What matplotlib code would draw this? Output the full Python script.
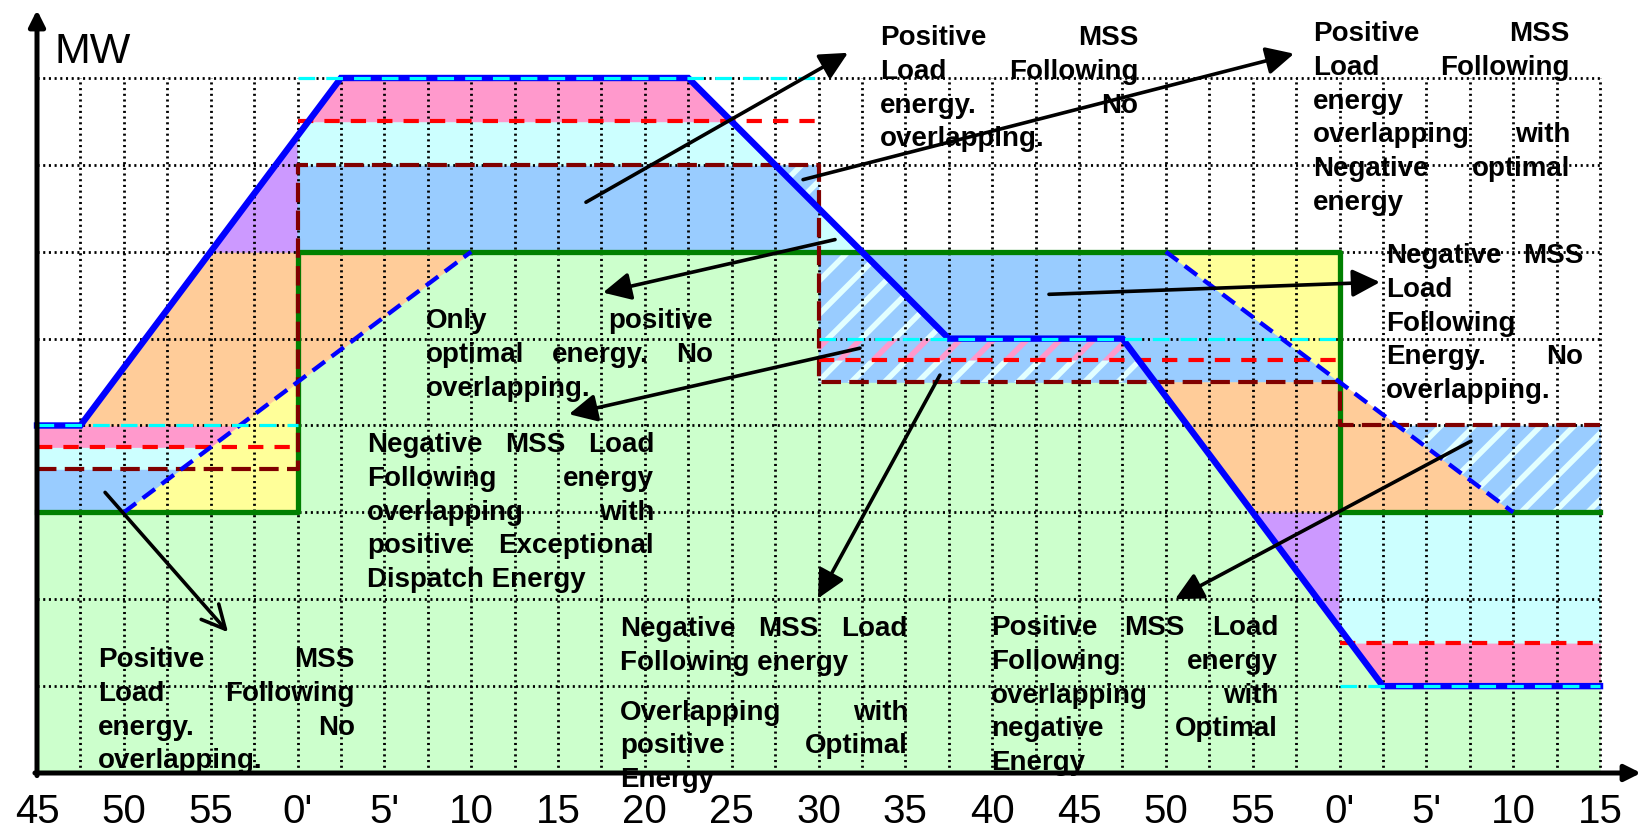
import numpy as np
import matplotlib
matplotlib.use("Agg")
import matplotlib.pyplot as plt

plt.rcParams["lines.scale_dashes"] = False
plt.rcParams["hatch.linewidth"] = 4.0
plt.rcParams["font.family"] = ["Liberation Sans", "DejaVu Sans"]

# ---------------- data (minutes from :45, MW levels) ----------------
tick_minutes = list(range(0, 91, 5))
tick_labels = ["45", "50", "55", "0'", "5'", "10", "15", "20", "25", "30",
               "35", "40", "45", "50", "55", "0'", "5'", "10", "15"]

# hourly schedule (green)
sched_edges = [0, 15, 75, 90]
sched_mw = [3, 6, 3]

# 30-minute interval levels
interval_edges = [0, 15, 45, 75, 90]
ed_mw = [3.5, 7, 4.5, 4]          # exceptional dispatch (dark red dashed)
optimal_mw = [3.75, 7.5, 4.75, 1.5]  # optimal energy (red dashed)
mss_mw = [4, 8, 5, 1]              # MSS load following target (cyan dashed)

# dispatch instruction (solid blue)
dispatch_t = [0, 2.5, 17.5, 37.5, 52.5, 62.5, 77.5, 90]
dispatch_mw = [4, 4, 8, 8, 5, 5, 1, 1]

# hourly schedule ramps (blue dashed)
ramp_up_t = [5, 25]
ramp_up_mw = [3, 6]
ramp_down_t = [65, 85]
ramp_down_mw = [6, 3]

# ---------------- colours ----------------
GREEN_FILL = "#CCFFCC"
BLUE_FILL = "#99CCFF"
CYAN_FILL = "#CCFFFF"
PINK_FILL = "#FF99CC"
YELLOW_FILL = "#FFFF99"
ORANGE_FILL = "#FFCC99"
PURPLE_FILL = "#CC99FF"
STRIPE = "#E2FFFF"

# ---------------- canvas ----------------
W, H = 1642, 830
X0_PX, Y0_PX = 37, 773          # origin position in pixels (from top-left)
PX_PER_MIN, PX_PER_MW = 17.367, 86.875

fig = plt.figure(figsize=(W / 100, H / 100), dpi=100)
ax = fig.add_axes([0, 0, 1, 1])
ax.set_xlim(-X0_PX / PX_PER_MIN, (W - X0_PX) / PX_PER_MIN)
ax.set_ylim(-(H - Y0_PX) / PX_PER_MW, Y0_PX / PX_PER_MW)
ax.axis("off")

tt = np.linspace(0, 90, 18001)
disp = np.interp(tt, dispatch_t, dispatch_mw)
up = np.interp(tt, ramp_up_t, ramp_up_mw)
dn = np.interp(tt, ramp_down_t, ramp_down_mw)


def band(t0, t1, lo, hi, color):
    lo = np.broadcast_to(np.asarray(lo, float), tt.shape)
    hi = np.broadcast_to(np.asarray(hi, float), tt.shape)
    m = (tt >= t0) & (tt <= t1) & (hi > lo)
    ax.fill_between(tt, lo, hi, where=m, facecolor=color, edgecolor=color,
                    lw=0.4, zorder=1)


def stripes(t0, t1, lo, hi, color):
    lo = np.broadcast_to(np.asarray(lo, float), tt.shape)
    hi = np.broadcast_to(np.asarray(hi, float), tt.shape)
    m = (tt >= t0) & (tt <= t1) & (hi > lo)
    ax.fill_between(tt, lo, hi, where=m, facecolor="none", edgecolor=color,
                    lw=0, hatch="/", zorder=1.2)


# base: energy under the hourly schedule
for a, b, s in zip(sched_edges[:-1], sched_edges[1:], sched_mw):
    band(a, b, 0, s, GREEN_FILL)

# interval 0 (:45 - :00)
a, b = interval_edges[0], interval_edges[1]
s, e, o, m = sched_mw[0], ed_mw[0], optimal_mw[0], mss_mw[0]
band(a, b, s, e, BLUE_FILL)
band(a, b, e, o, CYAN_FILL)
band(a, b, o, m, PINK_FILL)
band(a, b, s, up, YELLOW_FILL)
band(a, b, np.maximum(m, up), np.minimum(disp, sched_mw[1]), ORANGE_FILL)
band(a, b, sched_mw[1], disp, PURPLE_FILL)

# interval 1 (:00 - :30)
a, b = interval_edges[1], interval_edges[2]
s, e, o, m = sched_mw[1], ed_mw[1], optimal_mw[1], mss_mw[1]
band(a, b, up, s, ORANGE_FILL)
band(a, b, s, e, BLUE_FILL)
band(a, b, e, np.minimum(o, disp), CYAN_FILL)
band(a, b, o, np.minimum(m, disp), PINK_FILL)
stripes(a, b, np.maximum(disp, s), e, STRIPE)

# interval 2 (:30 - :00)
a, b = interval_edges[2], interval_edges[3]
s, e, o, m = sched_mw[1], ed_mw[2], optimal_mw[2], mss_mw[2]
band(a, b, s, disp, CYAN_FILL)
band(a, b, e, np.minimum(s, dn), BLUE_FILL)
stripes(a, b, e, np.minimum(o, disp), STRIPE)
stripes(a, b, o, np.minimum(m, disp), PINK_FILL)
stripes(a, b, m, np.minimum(s, disp), STRIPE)
band(a, b, dn, s, YELLOW_FILL)
band(a, b, np.maximum(disp, sched_mw[2]), e, ORANGE_FILL)
band(a, b, disp, sched_mw[2], PURPLE_FILL)

# interval 3 (:00 - :15)
a, b = interval_edges[3], interval_edges[4]
s, e, o, m = sched_mw[2], ed_mw[3], optimal_mw[3], mss_mw[3]
band(a, b, np.maximum(disp, m), o, PINK_FILL)
band(a, b, np.maximum(disp, o), s, CYAN_FILL)
band(a, b, s, dn, ORANGE_FILL)
band(a, b, np.maximum(dn, s), e, BLUE_FILL)
stripes(a, b, np.maximum(dn, s), e, STRIPE)

# ---------------- dotted grid ----------------
GRID = dict(color="black", lw=2.0, dashes=(1.5, 2.6), dash_capstyle="butt",
            zorder=3)
for t in np.arange(2.5, 90.01, 2.5):
    ax.plot([t, t], [0, 8], **GRID)
for lv in range(1, 9):
    ax.plot([0, 90], [lv, lv], **GRID)

# ---------------- level lines ----------------
def step_xy(edges, levels):
    return np.repeat(edges, 2)[1:-1], np.repeat(levels, 2)


gx, gy = step_xy(sched_edges, sched_mw)
ax.plot(gx, gy, color="#008000", lw=3.8, zorder=4)
ex, ey = step_xy(interval_edges, ed_mw)
ax.plot(ex, ey, color="#800000", lw=3.0, dashes=(14, 6), zorder=4.1)
for a, b, lv in zip(interval_edges[:-1], interval_edges[1:], optimal_mw):
    ax.plot([a, b], [lv, lv], color="#FF0000", lw=3.0, dashes=(11, 8),
            zorder=4.2)
ax.plot(ramp_up_t, ramp_up_mw, color="#0000FF", lw=3.1, dashes=(11, 6),
        zorder=4.3)
ax.plot(ramp_down_t, ramp_down_mw, color="#0000FF", lw=3.1, dashes=(11, 6),
        zorder=4.3)
ax.plot(dispatch_t, dispatch_mw, color="#0000FF", lw=4.6, zorder=4.4,
        solid_joinstyle="miter")
for a, b, lv in zip(interval_edges[:-1], interval_edges[1:], mss_mw):
    ax.plot([a, b], [lv, lv], color="#00FFFF", lw=2.3, dashes=(12, 8),
            zorder=4.5)

# ---------------- annotations ----------------
TXT = dict(fontsize=20, fontweight="bold", color="black", va="baseline",
           ha="left", zorder=2)
renderer = fig.canvas.get_renderer()
to_px = ax.transData.transform
from_px = ax.transData.inverted().transform
LINE_STEP = 33.8 / PX_PER_MW


def text_block(x0, x1, y0, paragraphs, para_gap=0.0):
    y = y0
    for lines in paragraphs:
        for i, line in enumerate(lines):
            words = line.split()
            if i == len(lines) - 1 or len(words) == 1:
                ax.text(x0, y, line, **TXT)
            else:
                objs = [ax.text(x0, y, w, **TXT) for w in words]
                widths = [o.get_window_extent(renderer).width for o in objs]
                p0 = to_px((x0, y))[0]
                p1 = to_px((x1, y))[0]
                gap = (p1 - p0 - sum(widths)) / (len(words) - 1)
                cur = p0
                for o, wd in zip(objs, widths):
                    o.set_x(from_px((cur, 0))[0])
                    cur += wd + gap
            y -= LINE_STEP
        y -= para_gap


text_block(48.54, 63.40, 8.380,
           [["Positive MSS", "Load Following", "energy. No", "overlapping."]])
text_block(73.47, 88.27, 8.426,
           [["Positive MSS", "Load Following", "energy", "overlapping with",
             "Negative optimal", "energy"]])
text_block(77.68, 89.02, 5.870,
           [["Negative MSS", "Load", "Following", "Energy. No",
             "overlapping."]])
text_block(22.40, 38.92, 5.122,
           [["Only positive", "optimal energy. No", "overlapping."]])
text_block(19.00, 35.53, 3.695,
           [["Negative MSS Load", "Following energy", "overlapping with",
             "positive Exceptional", "Dispatch Energy"]])
text_block(3.51, 18.31, 1.220,
           [["Positive MSS", "Load Following", "energy. No", "overlapping."]])
text_block(33.57, 50.15, 1.577,
           [["Negative MSS Load", "Following energy"],
            ["Overlapping with", "positive Optimal", "Energy"]],
           para_gap=16 / PX_PER_MW)
text_block(54.93, 71.46, 1.589,
           [["Positive MSS Load", "Following energy", "overlapping with",
             "negative Optimal", "Energy"]])

# pointer arrows: (tail, tip, style)
pointers = [
    ((31.61, 6.57), (46.70, 8.29), "-|>"),
    ((44.11, 6.83), (72.38, 8.28), "-|>"),
    ((45.95, 6.14), (32.59, 5.53), "-|>"),
    ((47.39, 4.89), (30.63, 4.13), "-|>"),
    ((58.27, 5.51), (77.33, 5.65), "-|>"),
    ((51.99, 4.58), (44.97, 2.01), "-|>"),
    ((82.57, 3.82), (65.53, 2.00), "-|>"),
    ((3.92, 3.23), (11.00, 1.62), "->"),
]
for tail, tip, style in pointers:
    ax.annotate("", xy=tip, xytext=tail, zorder=6,
                arrowprops=dict(arrowstyle=style, color="black", lw=2.6,
                                mutation_scale=42, shrinkA=0, shrinkB=0))

# ---------------- axes ----------------
ax.annotate("", xy=(0, (Y0_PX - 10) / PX_PER_MW), xytext=(0, -0.03), zorder=7,
            arrowprops=dict(arrowstyle="-|>", color="black", lw=3.6,
                            mutation_scale=24, shrinkA=0, shrinkB=0))
ax.annotate("", xy=((W - 1 - X0_PX) / PX_PER_MIN, 0), xytext=(-0.12, 0),
            zorder=7,
            arrowprops=dict(arrowstyle="-|>", color="black", lw=3.6,
                            mutation_scale=24, shrinkA=0, shrinkB=0))
ax.text(18 / PX_PER_MIN, 8.17, "MW", fontsize=31, va="baseline", ha="left")

for t, lab in zip(tick_minutes, tick_labels):
    ax.text(t, -50 / PX_PER_MW, lab, fontsize=29, ha="center",
            va="baseline")

fig.savefig("out.png", dpi=100)
